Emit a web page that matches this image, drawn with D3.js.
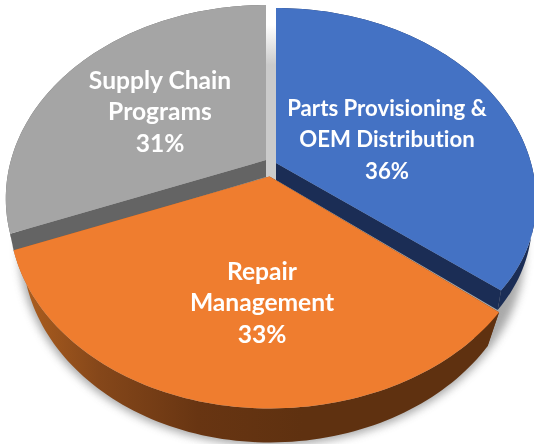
<!DOCTYPE html>
<html>
<head>
<meta charset="utf-8">
<script src="https://cdn.jsdelivr.net/npm/d3@7"></script>
<style>
html, body { margin: 0; background: #fff; }
svg { display: block; }
text { font-family: Lato, "Open Sans", sans-serif; font-weight: 700; fill: #fff; text-anchor: middle; font-variant-ligatures: none; }
</style>
</head>
<body>
<svg width="534" height="444"></svg>
<script>
var categories = ["Parts Provisioning & OEM Distribution", "Repair Management", "Supply Chain Programs"]
var shares = [36, 33, 31]
var labelLines = [["Parts Provisioning &", "OEM Distribution"], ["Repair", "Management"], ["Supply Chain", "Programs"]]
var topColors = ["#4472c4", "#ef7d2f", "#a5a5a5"]
var cutColors = ["#1b2d55", "#7b421a", "#646464"]

// exploded slices, each one has its own apex on the page
var apexes = [[276, 163], [269.5, 176.5], [266, 160]]
var labelCentres = [[387, 139], [262, 303], [160, 112]]
var labelSizes = [22.2, 24.6, 24.6]

// circle seen in perspective: v runs from back (-1) to front (1)
var k = -0.199, ry = 185.8, rx = 255
var depths = [17, 34, 17]
var lowerShrink = [0.985, 0.95, 0.985]
// small hand fixes so the slice corners land where the picture has them
var frontSquash = [0.094, 0, 0]
var rightStretch = [1, 1.02, 1]

var pie = d3.pie().sort(null).value(d => d)
var arcs = pie(shares)
var svg = d3.select("svg")
var defs = svg.append("defs")
var line = d3.line()

function project(angle, i, lower) {
  var apex = apexes[i]
  var u = Math.sin(angle), v = -Math.cos(angle)
  var s = 1 + k * v
  var x = rx * u / s * (u > 0 ? rightStretch[i] : 1)
  var y = ry * v / s * (1 - frontSquash[i] * Math.max(v, 0))
  if (lower) return [apex[0] + x * lowerShrink[i], apex[1] + y + (i == 1 ? depths[i] : depths[i] / s)]
  return [apex[0] + x, apex[1] + y]
}

function sweep(a, b, i, lower) {
  var n = 90
  return d3.range(n + 1).map(j => project(a + (b - a) * j / n, i, lower))
}

function apexDrop(i) {
  return [apexes[i][0], apexes[i][1] + depths[i]]
}

defs.append("filter").attr("id", "soft").attr("x", "-20%").attr("y", "-20%").attr("width", "140%").attr("height", "140%")
  .append("feGaussianBlur").attr("stdDeviation", 4)
defs.append("filter").attr("id", "textSoft").append("feGaussianBlur").attr("stdDeviation", 0.35)

var wallGrad = defs.append("linearGradient").attr("id", "wallOrange")
  .attr("gradientUnits", "userSpaceOnUse").attr("x1", 15).attr("x2", 510).attr("y1", 0).attr("y2", 0)
wallGrad.selectAll("stop")
  .data([[0, "#b0601f"], [0.17, "#85471a"], [0.37, "#683512"], [0.58, "#5f3110"], [1, "#5f3110"]])
  .enter().append("stop")
  .attr("offset", d => d[0])
  .attr("stop-color", d => d[1])

var stripGrad = defs.append("linearGradient").attr("id", "strip")
  .attr("gradientUnits", "userSpaceOnUse").attr("x1", 0).attr("x2", 0).attr("y1", 25).attr("y2", 65)
stripGrad.append("stop").attr("offset", 0).attr("stop-color", "#ffffff")
stripGrad.append("stop").attr("offset", 1).attr("stop-color", "#cbcbcb")

// soft shadow under the whole pie
svg.append("path")
  .attr("d", line(sweep(0, 2 * Math.PI, 1, true)) + "Z")
  .attr("fill", "#8c8c8c")
  .attr("stroke", "#8c8c8c")
  .attr("stroke-width", 7)
  .attr("filter", "url(#soft)")
  .attr("opacity", 0.75)

// light face between the grey and blue slices
svg.append("path")
  .attr("d", line([apexes[2], project(0, 2), project(0, 0), apexes[0], apexDrop(0), apexDrop(2)]) + "Z")
  .attr("fill", "url(#strip)")

var drawOrder = [2, 0, 1]
drawOrder.forEach(function(i) {
  var a = arcs[i], apex = apexes[i]
  var wallFill = i == 1 ? "url(#wallOrange)" : cutColors[i]

  var top = sweep(a.startAngle, a.endAngle, i, false)
  var bottom = sweep(a.startAngle, a.endAngle, i, true)

  svg.append("path")
    .attr("d", line(top.concat(bottom.slice().reverse())) + "Z")
    .attr("fill", wallFill)
  svg.append("path")
    .attr("d", line([apex, top[0], bottom[0], apexDrop(i)]) + "Z")
    .attr("fill", i == 1 ? "#5f3110" : cutColors[i])
  svg.append("path")
    .attr("d", line([apex, top[top.length - 1], bottom[bottom.length - 1], apexDrop(i)]) + "Z")
    .attr("fill", i == 1 ? "#a85a20" : cutColors[i])
  svg.append("path")
    .attr("d", line([apex].concat(top)) + "Z")
    .attr("fill", topColors[i])
    .attr("data-category", categories[i])
})

labelLines.forEach(function(lines, i) {
  var rows = lines.concat([shares[i] + "%"])
  var t = svg.append("text")
    .attr("font-size", labelSizes[i])
    .attr("filter", "url(#textSoft)")
  rows.forEach(function(row, j) {
    t.append("tspan")
      .attr("x", labelCentres[i][0])
      .attr("y", labelCentres[i][1] + (j - 1) * 31.5 + 8)
      .text(row)
  })
})
</script>
</body>
</html>
